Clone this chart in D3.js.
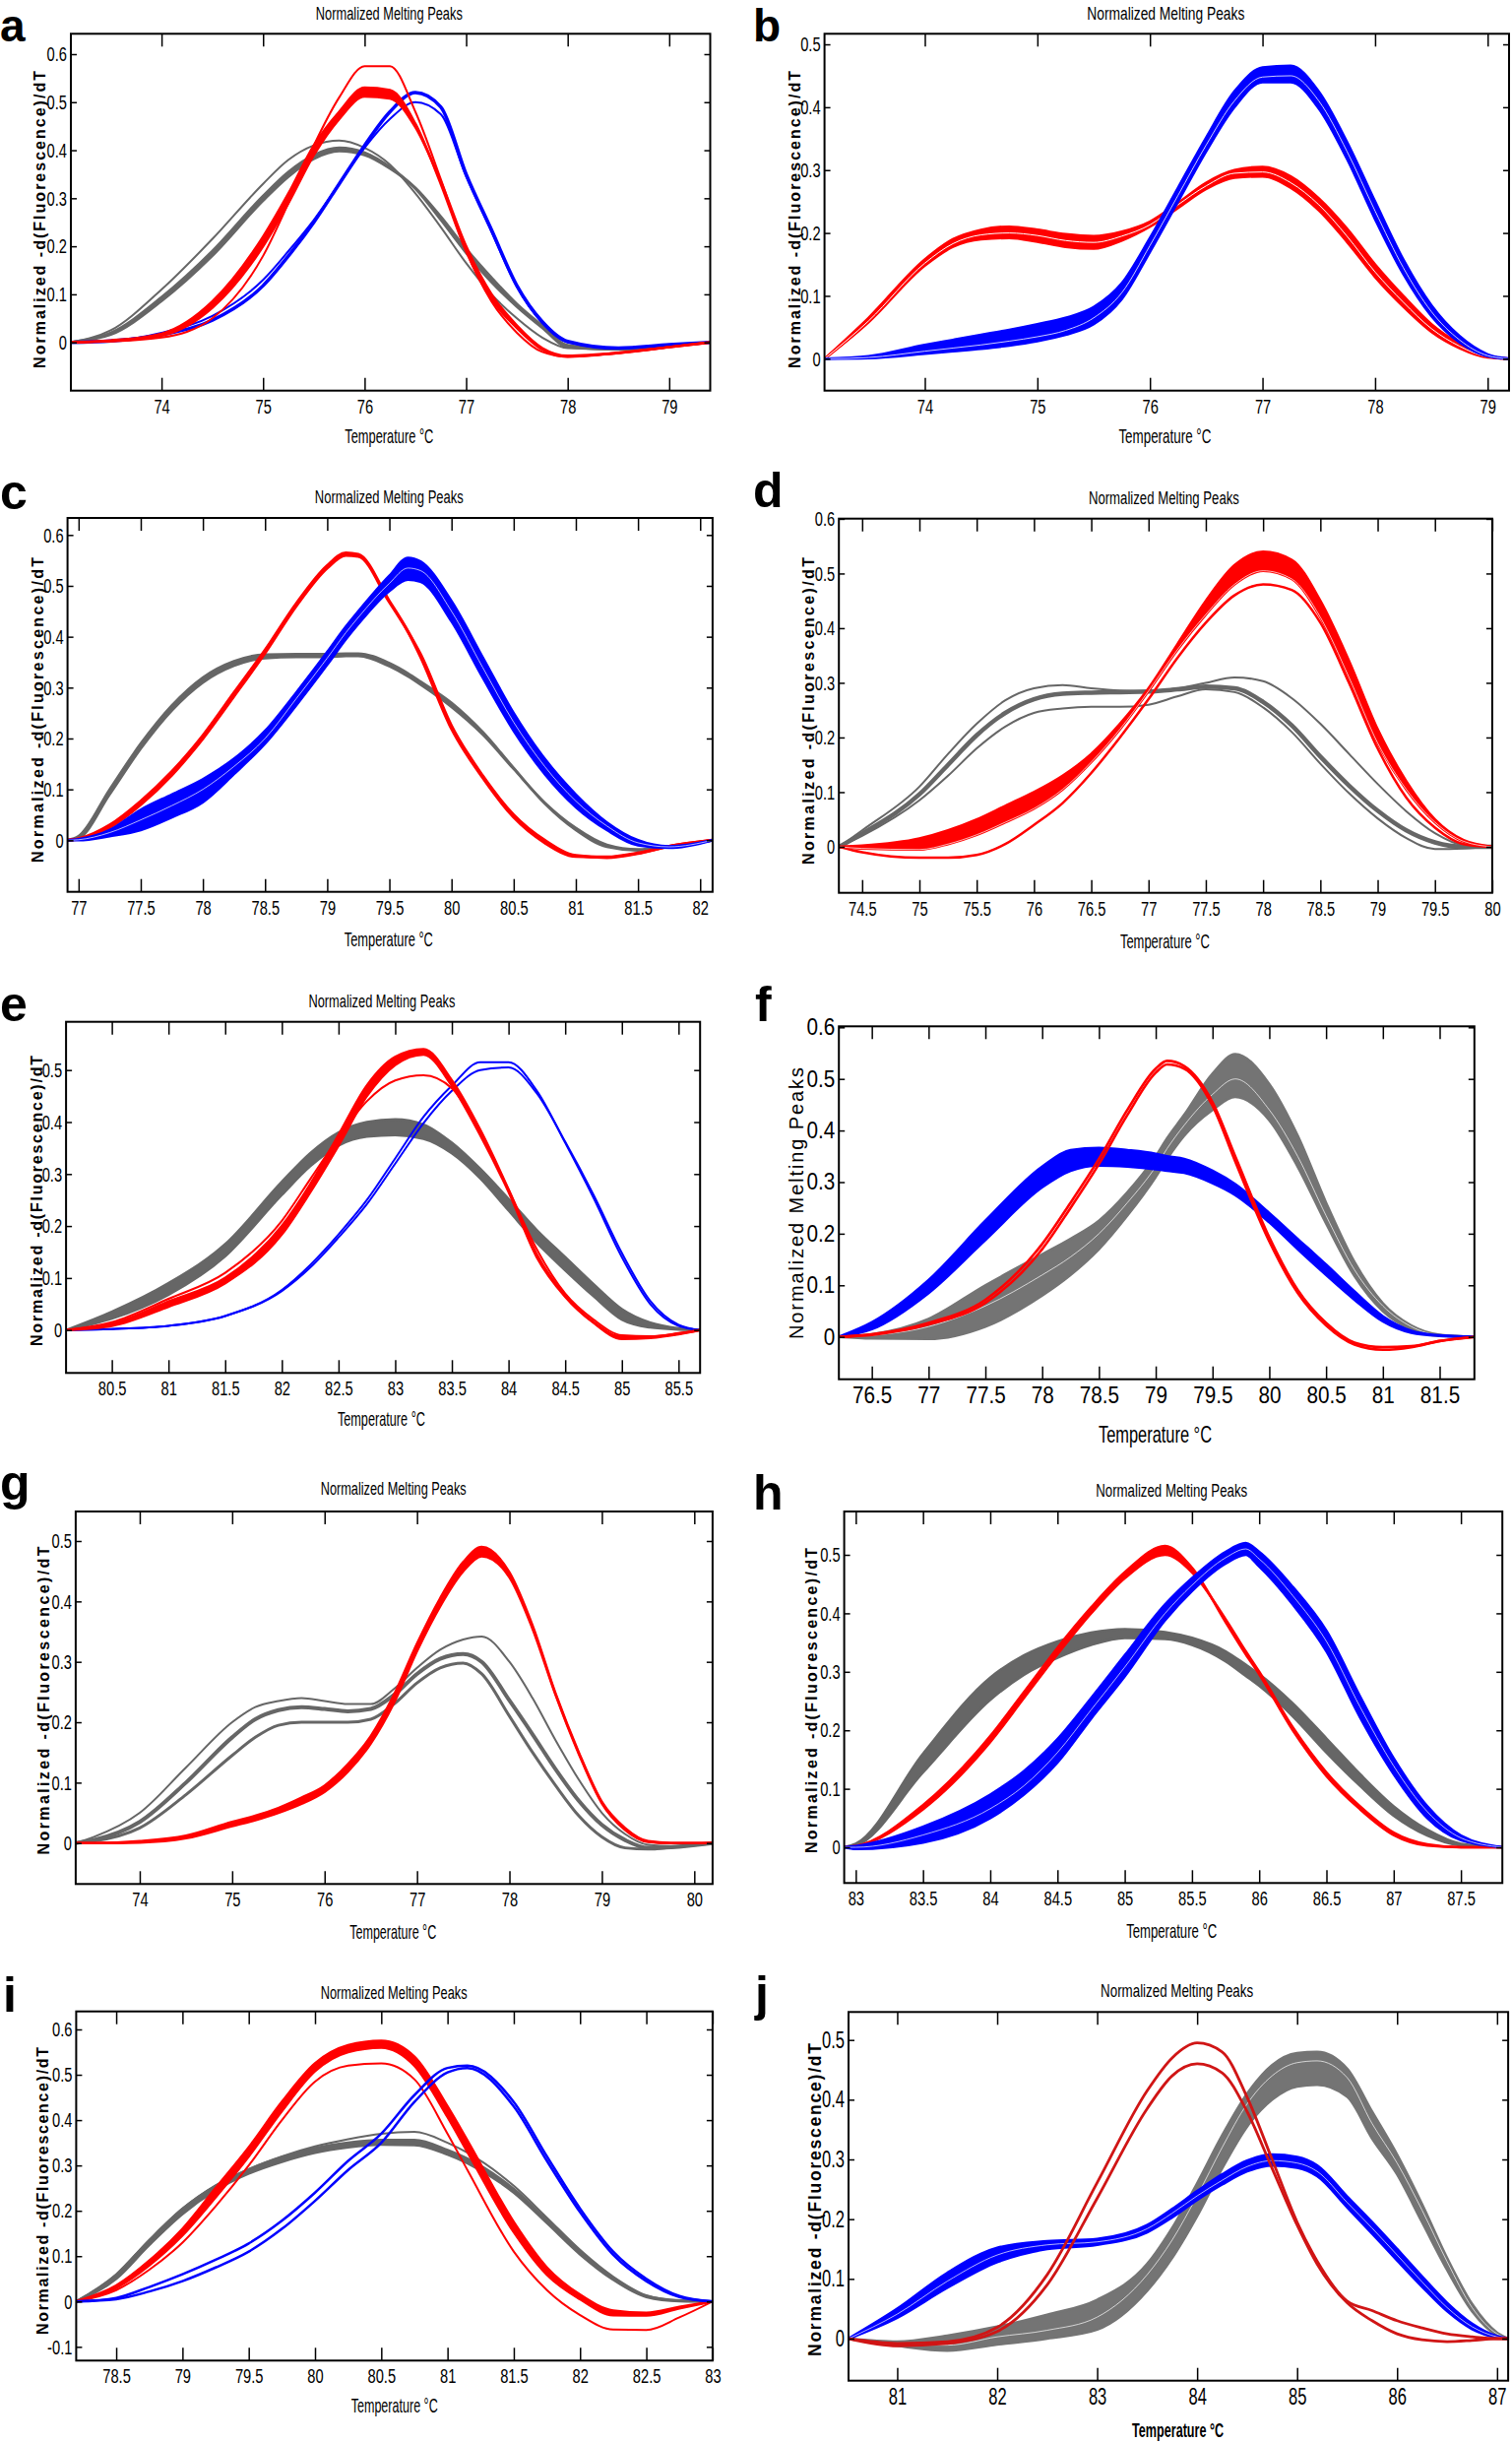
<!DOCTYPE html>
<html><head><meta charset="utf-8">
<script src="https://cdn.jsdelivr.net/npm/d3@7"></script>
<style>
body{margin:0;background:#fff;}
svg text{font-family:"Liberation Sans Narrow","Liberation Sans",Arial,sans-serif;fill:#000;}
</style></head><body>
<svg id="fig" width="1536" height="2481"></svg>
<script>
// ---------------- DATA ----------------
// panel a
const aTemp  = [73.1,73.5,74,74.5,75,75.25,75.5,75.75,76,76.25,76.5,76.75,77,77.25,77.5,77.75,78,78.5,79,79.4];
const aGrayA = [0,0.02,0.094,0.19,0.305,0.355,0.39,0.405,0.395,0.365,0.32,0.255,0.186,0.125,0.074,0.03,-0.01,-0.015,-0.008,0];
const aGrayC = [0,0.016,0.086,0.18,0.295,0.345,0.382,0.398,0.39,0.362,0.322,0.262,0.195,0.135,0.08,0.035,-0.006,-0.014,-0.008,0];
const aGrayB = [0,0.025,0.11,0.215,0.33,0.38,0.41,0.42,0.405,0.37,0.31,0.24,0.165,0.1,0.05,0.01,-0.012,-0.015,-0.008,0];
const aRedA  = [0,0.004,0.018,0.085,0.22,0.31,0.41,0.48,0.53,0.525,0.455,0.33,0.19,0.09,0.03,-0.015,-0.03,-0.022,-0.01,0];
const aRedB  = [0,0.003,0.014,0.072,0.2,0.29,0.39,0.465,0.512,0.508,0.448,0.335,0.2,0.1,0.035,-0.012,-0.028,-0.022,-0.01,0];
const aRedC  = [0,0.002,0.01,0.05,0.18,0.29,0.41,0.51,0.575,0.575,0.48,0.34,0.19,0.085,0.02,-0.02,-0.03,-0.022,-0.01,0];
const aBlueA = [0,0.003,0.016,0.046,0.118,0.18,0.25,0.33,0.41,0.48,0.52,0.49,0.35,0.234,0.118,0.043,0.002,-0.012,-0.005,0];
const aBlueB = [0,0.003,0.02,0.055,0.13,0.19,0.255,0.33,0.405,0.465,0.5,0.475,0.345,0.23,0.115,0.04,0,-0.012,-0.005,0];
const aXTicks = [74,75,76,77,78,79];
const aYTicks = [0,0.1,0.2,0.3,0.4,0.5,0.6];
// panel b
const bTemp  = [73.11,73.5,74,74.25,74.5,74.75,75,75.25,75.5,75.75,76,76.25,76.5,76.75,77,77.25,77.5,77.75,78,78.25,78.5,78.75,79,79.19];
const bRedA  = [0,0.06,0.152,0.183,0.197,0.2,0.196,0.188,0.185,0.195,0.213,0.245,0.275,0.295,0.297,0.28,0.245,0.195,0.138,0.09,0.048,0.02,0.003,0];
const bRedB  = [0,0.065,0.158,0.19,0.205,0.21,0.205,0.198,0.195,0.202,0.218,0.248,0.28,0.3,0.305,0.29,0.255,0.207,0.15,0.1,0.055,0.024,0.004,0];
const bRedC  = [0,0.058,0.148,0.178,0.19,0.192,0.186,0.178,0.175,0.188,0.21,0.24,0.27,0.288,0.29,0.272,0.236,0.186,0.13,0.083,0.043,0.017,0.002,0];
const bBlueA = [0,0.002,0.012,0.017,0.022,0.028,0.035,0.045,0.065,0.105,0.18,0.26,0.34,0.41,0.448,0.45,0.41,0.33,0.235,0.145,0.075,0.03,0.005,0];
const bBlueB = [0,0.004,0.022,0.03,0.038,0.046,0.055,0.065,0.082,0.12,0.192,0.272,0.352,0.425,0.463,0.466,0.425,0.345,0.25,0.158,0.085,0.036,0.007,0];
const bBlueC = [0,0.001,0.008,0.012,0.016,0.021,0.028,0.038,0.055,0.095,0.17,0.25,0.33,0.4,0.44,0.44,0.398,0.318,0.222,0.135,0.068,0.026,0.004,0];
const bXTicks = [74,75,76,77,78,79];
const bYTicks = [0,0.1,0.2,0.3,0.4,0.5];
// panel c
const cTemp  = [76.91,77,77.25,77.5,77.75,78,78.25,78.5,78.75,79,79.15,79.25,79.5,79.65,79.75,80,80.25,80.5,80.75,81,81.25,81.5,81.75,82.1];
const cGrayA = [0,0.008,0.1,0.19,0.265,0.32,0.352,0.365,0.366,0.366,0.367,0.367,0.348,0.328,0.312,0.27,0.213,0.142,0.072,0.02,-0.013,-0.02,-0.012,0];
const cGrayB = [0,0.004,0.09,0.18,0.255,0.31,0.343,0.358,0.36,0.36,0.362,0.362,0.342,0.322,0.306,0.262,0.208,0.14,0.074,0.024,-0.009,-0.018,-0.012,0];
const cRedA  = [0,0.003,0.03,0.077,0.135,0.206,0.29,0.374,0.465,0.54,0.565,0.562,0.47,0.41,0.361,0.219,0.123,0.045,-0.005,-0.032,-0.033,-0.025,-0.012,0];
const cRedB  = [0,0.002,0.025,0.07,0.128,0.2,0.283,0.368,0.46,0.535,0.56,0.558,0.468,0.41,0.366,0.225,0.127,0.05,0,-0.03,-0.034,-0.026,-0.012,0];
const cBlueA = [0,0.002,0.02,0.06,0.09,0.12,0.16,0.215,0.29,0.37,0.42,0.45,0.52,0.555,0.548,0.47,0.36,0.25,0.16,0.09,0.035,0,-0.012,0];
const cBlueB = [0,0,0.008,0.02,0.045,0.075,0.13,0.19,0.265,0.345,0.395,0.425,0.49,0.512,0.508,0.43,0.32,0.215,0.13,0.065,0.02,-0.01,-0.015,0];
const cBlueC = [0,0.001,0.015,0.04,0.068,0.1,0.145,0.2,0.278,0.358,0.408,0.438,0.505,0.535,0.53,0.45,0.34,0.232,0.145,0.077,0.028,-0.005,-0.013,0];
const cXTicks = [77,77.5,78,78.5,79,79.5,80,80.5,81,81.5,82];
const cYTicks = [0,0.1,0.2,0.3,0.4,0.5,0.6];
// panel d
const dTemp  = [74.3,74.5,75,75.25,75.5,75.75,76,76.25,76.5,76.75,77,77.25,77.5,77.75,78,78.25,78.5,78.75,79,79.25,79.5,79.75,80];
const dGrayA = [0,0.024,0.096,0.15,0.204,0.245,0.27,0.28,0.282,0.283,0.284,0.288,0.293,0.29,0.265,0.222,0.165,0.112,0.066,0.03,0.008,0,0];
const dGrayB = [0,0.03,0.11,0.17,0.225,0.268,0.29,0.296,0.29,0.286,0.285,0.29,0.3,0.31,0.303,0.272,0.225,0.17,0.115,0.065,0.025,0.003,0];
const dGrayC = [0,0.02,0.085,0.13,0.18,0.22,0.245,0.253,0.256,0.256,0.26,0.275,0.288,0.283,0.255,0.21,0.152,0.098,0.052,0.016,-0.004,-0.003,0];
const dRedA  = [0,-0.003,-0.005,0.005,0.022,0.045,0.07,0.105,0.155,0.215,0.285,0.36,0.425,0.48,0.505,0.49,0.42,0.31,0.19,0.105,0.045,0.01,0];
const dRedB  = [0,0.002,0.015,0.03,0.05,0.075,0.1,0.13,0.17,0.225,0.29,0.37,0.45,0.515,0.54,0.525,0.45,0.34,0.215,0.12,0.05,0.012,0];
const dRedC  = [0,-0.01,-0.02,-0.02,-0.015,0.005,0.04,0.08,0.135,0.2,0.27,0.345,0.41,0.46,0.48,0.47,0.41,0.3,0.18,0.09,0.035,0.005,0];
const dXTicks = [74.5,75,75.5,76,76.5,77,77.5,78,78.5,79,79.5,80];
const dYTicks = [0,0.1,0.2,0.3,0.4,0.5,0.6];
// panel e
const eTemp  = [80.1,80.5,81,81.5,82,82.25,82.5,82.75,83,83.25,83.5,83.75,84,84.25,84.5,84.75,85,85.25,85.5,85.69];
const eGrayA = [0,0.027,0.077,0.153,0.273,0.33,0.372,0.39,0.392,0.38,0.348,0.3,0.24,0.18,0.13,0.077,0.028,0.008,0.002,0];
const eGrayB = [0,0.035,0.09,0.165,0.285,0.34,0.38,0.4,0.405,0.395,0.36,0.31,0.252,0.192,0.14,0.088,0.04,0.014,0.003,0];
const eGrayC = [0,0.022,0.068,0.142,0.26,0.315,0.355,0.372,0.375,0.368,0.34,0.292,0.23,0.168,0.115,0.065,0.02,0.005,0.001,0];
const eRedA  = [0,0.008,0.045,0.09,0.184,0.265,0.355,0.45,0.51,0.53,0.47,0.375,0.266,0.14,0.064,0.014,-0.017,-0.015,-0.008,0];
const eRedB  = [0,0.012,0.055,0.1,0.2,0.28,0.375,0.47,0.525,0.54,0.48,0.385,0.27,0.145,0.066,0.015,-0.013,-0.013,-0.007,0];
const eRedC  = [0,0.015,0.06,0.11,0.21,0.29,0.37,0.44,0.48,0.49,0.465,0.38,0.27,0.155,0.07,0.02,-0.01,-0.012,-0.006,0];
const eBlueA = [0,0.002,0.008,0.027,0.077,0.125,0.184,0.25,0.33,0.41,0.47,0.515,0.515,0.46,0.36,0.254,0.14,0.05,0.008,0];
const eBlueB = [0,0.002,0.008,0.027,0.075,0.12,0.178,0.242,0.32,0.398,0.46,0.5,0.505,0.455,0.362,0.26,0.148,0.056,0.01,0];
const eXTicks = [80.5,81,81.5,82,82.5,83,83.5,84,84.5,85,85.5];
const eYTicks = [0,0.1,0.2,0.3,0.4,0.5];
// panel f
const fTemp  = [76.21,76.5,77,77.5,78,78.25,78.5,78.75,79,79.1,79.25,79.5,79.7,80,80.25,80.5,80.75,81,81.25,81.5,81.81];
const fBlueA = [0,0.021,0.097,0.205,0.305,0.335,0.345,0.345,0.34,0.338,0.333,0.31,0.285,0.231,0.18,0.13,0.08,0.035,0.01,0.003,0];
const fBlueB = [0,0.028,0.11,0.225,0.33,0.362,0.366,0.362,0.355,0.35,0.345,0.322,0.296,0.24,0.19,0.14,0.088,0.04,0.012,0.003,0];
const fBlueC = [0,0.015,0.085,0.188,0.29,0.322,0.332,0.33,0.325,0.322,0.318,0.298,0.275,0.222,0.17,0.12,0.072,0.03,0.008,0.002,0];
const fRedA  = [0,0.005,0.027,0.072,0.18,0.26,0.345,0.44,0.52,0.535,0.525,0.455,0.35,0.193,0.091,0.027,-0.011,-0.02,-0.018,-0.008,0];
const fRedB  = [0,0.004,0.024,0.066,0.17,0.25,0.335,0.43,0.512,0.528,0.52,0.448,0.34,0.185,0.085,0.022,-0.015,-0.025,-0.02,-0.008,0];
const fGrayA = [0,0.003,0.02,0.06,0.12,0.155,0.2,0.26,0.33,0.365,0.41,0.47,0.5,0.44,0.35,0.235,0.13,0.06,0.02,0.003,0];
const fGrayB = [0,0.005,0.035,0.1,0.16,0.19,0.225,0.28,0.35,0.385,0.43,0.51,0.548,0.49,0.39,0.26,0.145,0.065,0.022,0.004,0];
const fGrayC = [0,-0.003,-0.004,0.02,0.08,0.12,0.17,0.235,0.31,0.345,0.39,0.44,0.465,0.42,0.33,0.22,0.118,0.05,0.015,0.002,0];
const fXTicks = [76.5,77,77.5,78,78.5,79,79.5,80,80.5,81,81.5];
const fYTicks = [0,0.1,0.2,0.3,0.4,0.5,0.6];
// panel g
const gTemp  = [73.3,73.5,74,74.5,75,75.25,75.5,75.75,76,76.25,76.5,76.75,77,77.25,77.5,77.7,78,78.25,78.5,78.75,79,79.25,79.5,79.75,80.2];
const gGrayA = [0,0.005,0.035,0.1,0.175,0.205,0.22,0.225,0.222,0.218,0.222,0.245,0.28,0.305,0.313,0.3,0.236,0.18,0.122,0.07,0.03,0.005,-0.008,-0.007,0];
const gGrayB = [0,0.01,0.05,0.125,0.2,0.225,0.235,0.24,0.235,0.23,0.23,0.255,0.29,0.32,0.337,0.342,0.3,0.24,0.17,0.105,0.05,0.015,-0.003,-0.005,0];
const gGrayC = [0,0.003,0.025,0.08,0.145,0.175,0.195,0.2,0.2,0.2,0.205,0.23,0.265,0.29,0.298,0.28,0.21,0.15,0.095,0.045,0.01,-0.008,-0.01,-0.007,0];
const gRedA  = [0,0,0.003,0.012,0.035,0.045,0.058,0.075,0.095,0.13,0.177,0.245,0.33,0.405,0.465,0.49,0.448,0.36,0.247,0.15,0.068,0.025,0.003,0,0];
const gRedB  = [0,0,0.001,0.008,0.028,0.038,0.05,0.065,0.085,0.118,0.165,0.232,0.318,0.392,0.45,0.475,0.44,0.355,0.245,0.148,0.066,0.022,0.002,0,0];
const gXTicks = [74,75,76,77,78,79,80];
const gYTicks = [0,0.1,0.2,0.3,0.4,0.5];
// panel h
const hTemp  = [82.914,83,83.5,84,84.25,84.5,84.75,85,85.3,85.5,85.75,85.9,86,86.25,86.5,86.75,87,87.25,87.5,87.808];
const hGrayA = [0,0.004,0.145,0.27,0.31,0.336,0.355,0.366,0.362,0.352,0.325,0.3,0.285,0.235,0.173,0.115,0.061,0.025,0.004,0];
const hGrayB = [0,0.006,0.16,0.29,0.328,0.352,0.367,0.373,0.368,0.358,0.335,0.312,0.296,0.246,0.186,0.125,0.07,0.03,0.006,0];
const hGrayC = [0,0.003,0.128,0.252,0.295,0.324,0.346,0.358,0.356,0.346,0.318,0.293,0.276,0.224,0.162,0.105,0.054,0.02,0.003,0];
const hRedA  = [0,0.002,0.072,0.19,0.265,0.341,0.41,0.47,0.515,0.478,0.385,0.33,0.296,0.2,0.122,0.065,0.021,0.003,0,0];
const hRedB  = [0,0.002,0.065,0.18,0.255,0.33,0.4,0.46,0.5,0.47,0.39,0.335,0.3,0.205,0.128,0.07,0.025,0.005,0,0];
const hBlueA = [0,0,0.021,0.066,0.105,0.162,0.235,0.308,0.4,0.448,0.495,0.51,0.493,0.43,0.352,0.24,0.139,0.061,0.016,0];
const hBlueB = [0,0.002,0.035,0.09,0.13,0.185,0.255,0.328,0.415,0.46,0.505,0.52,0.505,0.445,0.37,0.258,0.152,0.07,0.02,0];
const hBlueC = [0,-0.003,0.008,0.05,0.09,0.145,0.22,0.292,0.388,0.438,0.485,0.5,0.48,0.415,0.335,0.222,0.125,0.05,0.012,0];
const hXTicks = [83,83.5,84,84.5,85,85.5,86,86.5,87,87.5];
const hYTicks = [0,0.1,0.2,0.3,0.4,0.5];
// panel i
const iTemp  = [78.198,78.5,78.75,79,79.25,79.5,79.75,80,80.25,80.5,80.75,81,81.15,81.5,81.75,82,82.25,82.5,82.75,83];
const iGrayA = [0,0.059,0.135,0.204,0.255,0.291,0.318,0.338,0.35,0.356,0.356,0.334,0.315,0.248,0.18,0.11,0.052,0.012,0.002,0];
const iGrayB = [0,0.06,0.136,0.205,0.256,0.292,0.32,0.342,0.358,0.37,0.374,0.35,0.328,0.255,0.185,0.114,0.055,0.014,0.002,0];
const iGrayC = [0,0.05,0.125,0.193,0.245,0.282,0.308,0.328,0.34,0.346,0.345,0.324,0.305,0.24,0.173,0.104,0.048,0.01,0.001,0];
const iRedA  = [0,0.03,0.08,0.146,0.23,0.32,0.42,0.508,0.55,0.56,0.52,0.407,0.33,0.153,0.059,0.005,-0.03,-0.031,-0.015,0];
const iRedB  = [0,0.035,0.09,0.16,0.25,0.34,0.44,0.525,0.565,0.575,0.54,0.43,0.355,0.175,0.075,0.015,-0.02,-0.025,-0.012,0];
const iRedC  = [0,0.025,0.07,0.13,0.21,0.3,0.4,0.485,0.52,0.525,0.49,0.37,0.29,0.11,0.025,-0.03,-0.062,-0.063,-0.035,0];
const iBlueA = [0,0.005,0.022,0.045,0.075,0.11,0.16,0.222,0.29,0.35,0.44,0.505,0.515,0.43,0.31,0.197,0.103,0.045,0.01,0];
const iBlueB = [0,0.008,0.032,0.06,0.092,0.128,0.178,0.24,0.31,0.37,0.455,0.515,0.52,0.44,0.32,0.205,0.11,0.05,0.012,0];
const iXTicks = [78.5,79,79.5,80,80.5,81,81.5,82,82.5,83];
const iYTicks = [-0.1,0,0.1,0.2,0.3,0.4,0.5,0.6];
// panel j
const jTemp  = [80.513,81,81.5,82,82.5,83,83.5,83.75,84,84.25,84.5,84.75,85,85.2,85.5,85.75,86,86.25,86.5,86.75,87,87.111];
const jBlueA = [0,0.041,0.096,0.14,0.157,0.162,0.184,0.21,0.239,0.265,0.288,0.298,0.294,0.28,0.228,0.185,0.14,0.095,0.052,0.02,0.003,0];
const jBlueB = [0,0.05,0.11,0.152,0.163,0.167,0.19,0.217,0.247,0.275,0.298,0.308,0.304,0.29,0.238,0.195,0.15,0.104,0.06,0.025,0.004,0];
const jBlueC = [0,0.035,0.085,0.128,0.15,0.157,0.178,0.203,0.232,0.258,0.28,0.29,0.286,0.272,0.22,0.176,0.131,0.087,0.046,0.016,0.002,0];
const jRedA  = [0,-0.008,-0.005,0.019,0.107,0.261,0.415,0.47,0.495,0.48,0.404,0.3,0.195,0.13,0.063,0.047,0.03,0.018,0.008,0.003,0,0];
const jRedB  = [0,-0.012,-0.008,0.012,0.09,0.235,0.385,0.44,0.46,0.445,0.38,0.285,0.19,0.125,0.06,0.03,0.008,-0.002,-0.005,-0.003,0,0];
const jGrayA = [0,-0.01,-0.011,0.003,0.014,0.036,0.107,0.165,0.239,0.32,0.393,0.44,0.462,0.465,0.437,0.36,0.294,0.215,0.129,0.052,0.008,0];
const jGrayB = [0,-0.005,0.005,0.02,0.04,0.065,0.125,0.185,0.26,0.34,0.41,0.458,0.478,0.48,0.452,0.38,0.308,0.225,0.135,0.058,0.01,0];
const jGrayC = [0,-0.012,-0.02,-0.01,0,0.015,0.08,0.135,0.205,0.285,0.355,0.4,0.422,0.425,0.405,0.335,0.275,0.195,0.115,0.046,0.006,0];
const jXTicks = [81,82,83,84,85,86,87];
const jYTicks = [0,0.1,0.2,0.3,0.4,0.5];

const panelLetters = ["a","b","c","d","e","f","g","h","i","j"];
const titleText = "Normalized Melting Peaks";
const yLabelText = "Normalized -d(Fluorescence)/dT";
const xLabelText = "Temperature \u00B0C";

// ---------------- STYLE / LAYOUT ----------------
const RED = "#ff0000", BLUE = "#0000ff", GRAY = "#666666";
const JRED = "#d01515", LGRAY = "#747474";

const panels = [
 {temp:aTemp, box:[72,34.3,721.5,396.7], xd:[73.107,79.404], yd:[-0.1005,0.6424], xt:aXTicks, yt:aYTicks,
  layers:[{c:GRAY,band:[aGrayC,aGrayA]},{c:GRAY,line:aGrayB},{c:BLUE,line:aBlueB},{c:BLUE,line:aBlueA,w:3.5},{c:RED,band:[aRedB,aRedA]},{c:RED,line:aRedC}],
  title:[395.3,20,149], xlab:[395.3,450,90], ylab:[40,223,302], letter:[0,42,46]},
 {temp:bTemp, box:[837.6,34.3,1533,396.7], xd:[73.109,79.19], yd:[-0.0507,0.5168], xt:bXTicks, yt:bYTicks,
  layers:[{c:RED,band:[bRedC,bRedB]},{c:RED,line:bRedA,col:"#fff",w:1},{c:BLUE,band:[bBlueC,bBlueB]},{c:BLUE,line:bBlueA,col:"#fff",w:0.8}],
  title:[1184.3,20,160], xlab:[1183.4,450,94], ylab:[807,223,302], letter:[765,42,46]},
 {temp:cTemp, box:[68.6,526,723.9,905.7], xd:[76.911,82.1], yd:[-0.1014,0.6335], xt:cXTicks, yt:cYTicks,
  layers:[{c:GRAY,band:[cGrayB,cGrayA]},{c:RED,band:[cRedB,cRedA],w:3},{c:BLUE,band:[cBlueB,cBlueA]},{c:BLUE,line:cBlueC,col:"#fff",w:0.7}],
  title:[395.3,511,151], xlab:[394.8,961,90], ylab:[38.5,721,310], letter:[0,517]},
 {temp:dTemp, box:[852.2,526.7,1515.9,906.7], xd:[74.297,80], yd:[-0.0842,0.6004], xt:dXTicks, yt:dYTicks,
  layers:[{c:GRAY,line:dGrayB},{c:GRAY,line:dGrayC},{c:GRAY,line:dGrayA,w:4.5},{c:RED,line:dRedC,w:2.5},{c:RED,band:[dRedA,dRedB]},{c:RED,line:dRedA,col:"#fff",w:0.7}],
  title:[1182.4,511.7,153], xlab:[1183.4,963,91], ylab:[821,722,312], letter:[765,515]},
 {temp:eTemp, box:[67.1,1037.7,711.2,1394.3], xd:[80.096,85.69], yd:[-0.0826,0.5928], xt:eXTicks, yt:eYTicks,
  layers:[{c:GRAY,band:[eGrayC,eGrayB]},{c:BLUE,line:eBlueA},{c:BLUE,line:eBlueB},{c:RED,band:[eRedA,eRedB]},{c:RED,line:eRedC}],
  title:[387.9,1023,149], xlab:[387.4,1448,89], ylab:[37,1219.5,295], letter:[0,1037]},
 {temp:fTemp, box:[852.2,1042.3,1497.8,1400.7], xd:[76.21,81.806], yd:[-0.0821,0.6019], xt:fXTicks, yt:fYTicks,
  layers:[{c:LGRAY,band:[fGrayC,fGrayB]},{c:LGRAY,line:fGrayA,col:"#fff",w:0.7},{c:BLUE,band:[fBlueC,fBlueB]},{c:RED,line:fRedA,w:2.6},{c:RED,line:fRedB,w:2.6}],
  xlab:[1173.5,1465,115,24], ylab:[809,1222,276], ylabText:"Normalized Melting Peaks", ylabBold:false, ylabSize:20,
  tickSize:23, tickScale:0.9, letter:[767,1037]},
 {temp:gTemp, box:[76.9,1535,723.9,1913.3], xd:[73.307,80.198], yd:[-0.0678,0.5489], xt:gXTicks, yt:gYTicks,
  layers:[{c:GRAY,line:gGrayB},{c:GRAY,line:gGrayC,w:3},{c:GRAY,line:gGrayA,w:4},{c:RED,band:[gRedB,gRedA]}],
  title:[399.7,1518,148], xlab:[399.2,1969,88], ylab:[44,1727,313], letter:[0,1523]},
 {temp:hTemp, box:[857.6,1535,1526.2,1912.3], xd:[82.914,87.808], yd:[-0.0611,0.5741], xt:hXTicks, yt:hYTicks,
  layers:[{c:GRAY,band:[hGrayC,hGrayB]},{c:RED,band:[hRedB,hRedA]},{c:BLUE,band:[hBlueC,hBlueB]},{c:BLUE,line:hBlueA,col:"#fff",w:0.7}],
  title:[1190.2,1520,154], xlab:[1190.2,1968,92], ylab:[824.5,1727,310], letter:[765,1533]},
 {temp:iTemp, box:[77.4,2042.7,723.9,2397.3], xd:[78.198,83], yd:[-0.1303,0.6397], xt:iXTicks, yt:iYTicks,
  layers:[{c:GRAY,band:[iGrayC,iGrayA]},{c:GRAY,line:iGrayB},{c:RED,band:[iRedA,iRedB]},{c:RED,line:iRedC},{c:BLUE,line:iBlueA,w:2.5},{c:BLUE,line:iBlueB,w:2.5}],
  title:[400.2,2030,149], xlab:[400.7,2450,88], ylab:[43.8,2225,292], letter:[3,2043]},
 {temp:jTemp, box:[862,2043.3,1532.1,2417.7], xd:[80.513,87.111], yd:[-0.0704,0.5468], xt:jXTicks, yt:jYTicks,
  layers:[{c:LGRAY,band:[jGrayC,jGrayB]},{c:LGRAY,line:jGrayA,col:"#fff",w:0.7},{c:BLUE,band:[jBlueC,jBlueB]},{c:BLUE,line:jBlueA,col:"#fff",w:0.7},{c:JRED,line:jRedA,w:2.8},{c:JRED,line:jRedB,w:2.8}],
  title:[1195.6,2028,155], xlab:[1196.6,2475,93,21,true], ylab:[828,2234,318], ylabSize:17.5,
  tickSize:23, tickScale:0.72, letter:[767,2042]}
];

// ---------------- DRAW ----------------
const svg = d3.select("#fig");
const fmt = d => String(+(+d).toFixed(2));

panels.forEach((p, idx) => {
  const [x0, y0, x1, y1] = p.box;
  const x = d3.scaleLinear().domain(p.xd).range([x0, x1]);
  const y = d3.scaleLinear().domain(p.yd).range([y1, y0]);
  const g = svg.append("g");
  const clipId = "clip" + idx;
  g.append("clipPath").attr("id", clipId).append("rect")
    .attr("x", x0).attr("y", y0).attr("width", x1 - x0).attr("height", y1 - y0);
  const plot = g.append("g").attr("clip-path", `url(#${clipId})`);

  const line = d3.line().x((d, i) => x(p.temp[i])).y(d => y(d)).curve(d3.curveMonotoneX);
  const area = d3.area().x((d, i) => x(p.temp[i])).y0(d => y(d[0])).y1(d => y(d[1])).curve(d3.curveMonotoneX);

  p.layers.forEach(L => {
    if (L.band) {
      const pairs = L.band[0].map((v, i) => [v, L.band[1][i]]);
      plot.append("path").attr("d", area(pairs)).attr("fill", L.c).attr("stroke", "none");
      L.band.forEach(arr => plot.append("path").attr("d", line(arr))
        .attr("fill", "none").attr("stroke", L.c).attr("stroke-width", L.w || 2.6)
        .attr("stroke-linejoin", "round"));
    } else {
      plot.append("path").attr("d", line(L.line)).attr("fill", "none")
        .attr("stroke", L.col || L.c).attr("stroke-width", L.w || 2)
        .attr("stroke-linejoin", "round");
    }
  });

  const tSize = p.tickSize || 21, tScale = p.tickScale || 0.7;
  const styleAxis = sel => {
    sel.select(".domain").remove();
    sel.selectAll(".tick line").attr("stroke", "#000").attr("stroke-width", 1.5);
  };
  const bottom = g.append("g").attr("transform", `translate(0,${y1})`)
    .call(d3.axisBottom(x).tickValues(p.xt).tickSizeInner(-13).tickSizeOuter(0).tickPadding(8).tickFormat(fmt));
  styleAxis(bottom);
  bottom.selectAll("text").attr("font-size", tSize).attr("fill", "#000")
    .attr("font-family", '"Liberation Sans Narrow","Liberation Sans",sans-serif')
    .attr("transform", `scale(${tScale},1)`);
  const top = g.append("g").attr("transform", `translate(0,${y0})`)
    .call(d3.axisTop(x).tickValues(p.xt).tickSizeInner(-13).tickSizeOuter(0).tickFormat(""));
  styleAxis(top);
  const left = g.append("g").attr("transform", `translate(${x0},0)`)
    .call(d3.axisLeft(y).tickValues(p.yt).tickSizeInner(-6).tickSizeOuter(0).tickPadding(3).tickFormat(fmt));
  styleAxis(left);
  left.selectAll("text").attr("font-size", tSize).attr("fill", "#000")
    .attr("font-family", '"Liberation Sans Narrow","Liberation Sans",sans-serif')
    .attr("x", -4 / tScale).attr("transform", `scale(${tScale},1)`);
  const right = g.append("g").attr("transform", `translate(${x1},0)`)
    .call(d3.axisRight(y).tickValues(p.yt).tickSizeInner(-6).tickSizeOuter(0).tickFormat(""));
  styleAxis(right);

  g.append("rect").attr("x", x0).attr("y", y0).attr("width", x1 - x0).attr("height", y1 - y0)
    .attr("fill", "none").attr("stroke", "#000").attr("stroke-width", 2);

  if (p.title) {
    g.append("text").attr("x", p.title[0]).attr("y", p.title[1]).attr("text-anchor", "middle")
      .attr("font-size", 18).attr("textLength", p.title[2]).attr("lengthAdjust", "spacingAndGlyphs")
      .text(titleText);
  }
  const xl = p.xlab;
  g.append("text").attr("x", xl[0]).attr("y", xl[1]).attr("text-anchor", "middle")
    .attr("font-size", xl[3] || 21).attr("font-weight", xl[4] ? "bold" : "normal")
    .attr("textLength", xl[2]).attr("lengthAdjust", "spacingAndGlyphs")
    .text(xLabelText);

  // y label: spread to target length with letter-spacing
  const yl = p.ylab;
  const bold = p.ylabBold !== false;
  const label = p.ylabText || yLabelText;
  const yt = g.append("text")
    .attr("transform", `translate(${yl[0]},${yl[1]}) rotate(-90)`)
    .attr("text-anchor", "middle").attr("dy", "0.35em")
    .attr("font-family", '"Liberation Sans",Arial,sans-serif')
    .attr("font-weight", bold ? "bold" : "normal")
    .attr("font-size", p.ylabSize || 16)
    .text(label);
  const natural = yt.node().getComputedTextLength();
  const ls = (yl[2] - natural) / (label.length - 1);
  yt.attr("letter-spacing", ls.toFixed(2)).attr("dx", (ls / 2).toFixed(2));

  g.append("text").attr("x", p.letter[0]).attr("y", p.letter[1])
    .attr("font-family", '"Liberation Sans",Arial,sans-serif').attr("font-weight", "bold")
    .attr("font-size", p.letter[2] || 50).text(panelLetters[idx]);
});
</script>
</body></html>
